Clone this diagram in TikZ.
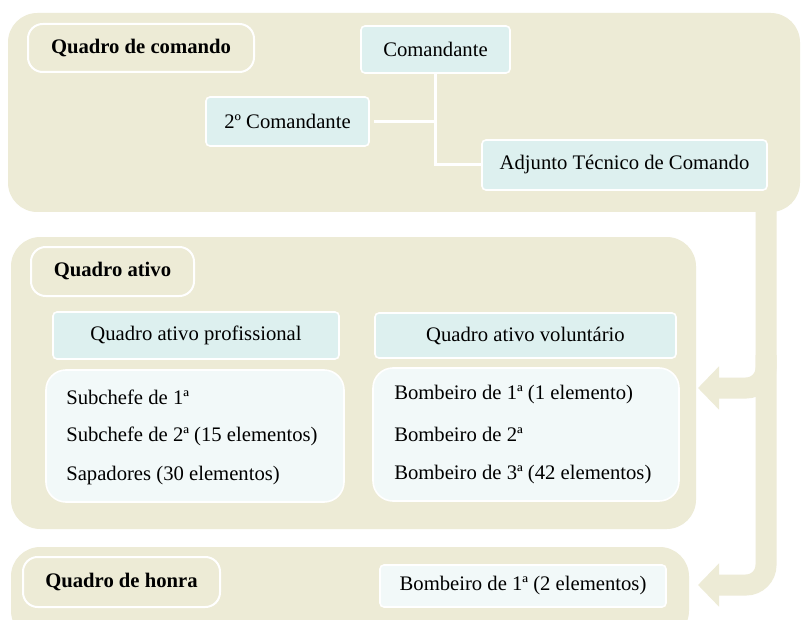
\documentclass[tikz,border=0pt]{standalone}
\usepackage{fontspec}
\setmainfont{Liberation Serif}
\usetikzlibrary{arrows.meta}
\usetikzlibrary{positioning}

\definecolor{panelbeige}{RGB}{237,235,214}
\definecolor{headcyan}{RGB}{221,240,239}
\definecolor{listpale}{RGB}{242,249,249}

\newcommand{\boxfont}{\fontsize{15.5}{18}\selectfont}

\tikzset{
  panel/.style={rectangle,rounded corners=22pt,fill=panelbeige,draw=none,inner sep=0pt},
  tagbox/.style={rectangle,rounded corners=11pt,fill=panelbeige,draw=white,line width=1.5pt,font=\boxfont\bfseries},
  headbox/.style={rectangle,rounded corners=3pt,fill=headcyan,draw=white,line width=1.2pt},
  listbox/.style={rectangle,rounded corners=15pt,fill=listpale,draw=white,line width=1.2pt},
  entry/.style={anchor=west,inner sep=0pt},
  link/.style={draw=white,line width=2.25pt},
  flow/.style={draw=panelbeige,line width=15.75pt,rounded corners=15pt,-{Triangle[length=15.75pt,width=31.5pt]}},
}

\begin{document}
\begin{tikzpicture}[x=0.75pt,y=-0.75pt,font=\boxfont]
\clip (0,0) rectangle (802,620);
\fill[white] (0,0) rectangle (802,620);

% panels
\node[panel,minimum width=594pt,minimum height=149.25pt] (cmdpanel) at (404,112.5) {};
\node[panel,minimum width=513.75pt,minimum height=219pt] (ativopanel) at (353.5,383) {};
\node[panel,minimum width=508.5pt,minimum height=69.75pt] (honrapanel) at (350,593.5) {};

% arrows between panels
\coordinate (bartop) at (766,205);
\coordinate (barmid) at (766,355);
\coordinate (ativotip) at (698,388);
\coordinate (honratip) at (698,585);
\draw[flow] (bartop) |- (honratip);
\draw[flow] (barmid) |- (ativotip);

% Quadro de comando
\node[tagbox,minimum width=169.5pt,minimum height=36pt] (cmdtag) at (141,48) {Quadro de comando};
\node[headbox,minimum width=111.75pt,minimum height=35.25pt] (cmd) at (435.5,49.5) {Comandante};
\node[headbox,minimum width=122.25pt,minimum height=36.75pt] (cmdtwo) at (287.5,121.5) {2º Comandante};
\node[headbox,minimum width=213.75pt,minimum height=37.5pt] (adj) at (624.5,165) {Adjunto Técnico de Comando};
\draw[link] (cmd.south) |- (adj.west);
\draw[link,shorten <=3pt] (cmdtwo.east) -- (cmdtwo.east -| cmd.south);

% Quadro ativo
\node[tagbox,minimum width=122.25pt,minimum height=36.75pt] (ativotag) at (112.5,271.5) {Quadro ativo};
\node[headbox,minimum width=214.5pt,minimum height=35.25pt] (profhead) at (196,335.5) {Quadro ativo profissional};
\node[headbox,minimum width=225.75pt,minimum height=33.75pt] (voluhead) at (525.5,335.5) {Quadro ativo voluntário};
\node[listbox,minimum width=223.5pt,minimum height=99pt] (proflist) at (195,436) {};
\node[listbox,minimum width=229.5pt,minimum height=99.75pt] (volulist) at (526,434.5) {};

\node[entry] (profa) at (66,397) {Subchefe de 1ª};
\node[entry] (profb) at (66,436) {Subchefe de 2ª (15 elementos)};
\node[entry] (profc) at (66,476) {Sapadores (30 elementos)};

\node[entry] (volua) at (394,395) {Bombeiro de 1ª (1 elemento)};
\node[entry] (volub) at (394,434) {Bombeiro de 2ª};
\node[entry] (voluc) at (394,475) {Bombeiro de 3ª (42 elementos)};

% Quadro de honra
\node[tagbox,minimum width=147.75pt,minimum height=37.5pt] (honratag) at (121.5,582) {Quadro de honra};
\node[listbox,rounded corners=3pt,minimum width=214.5pt,minimum height=31.5pt] (honrabox) at (523,586) {Bombeiro de 1ª (2 elementos)};

\end{tikzpicture}
\end{document}
